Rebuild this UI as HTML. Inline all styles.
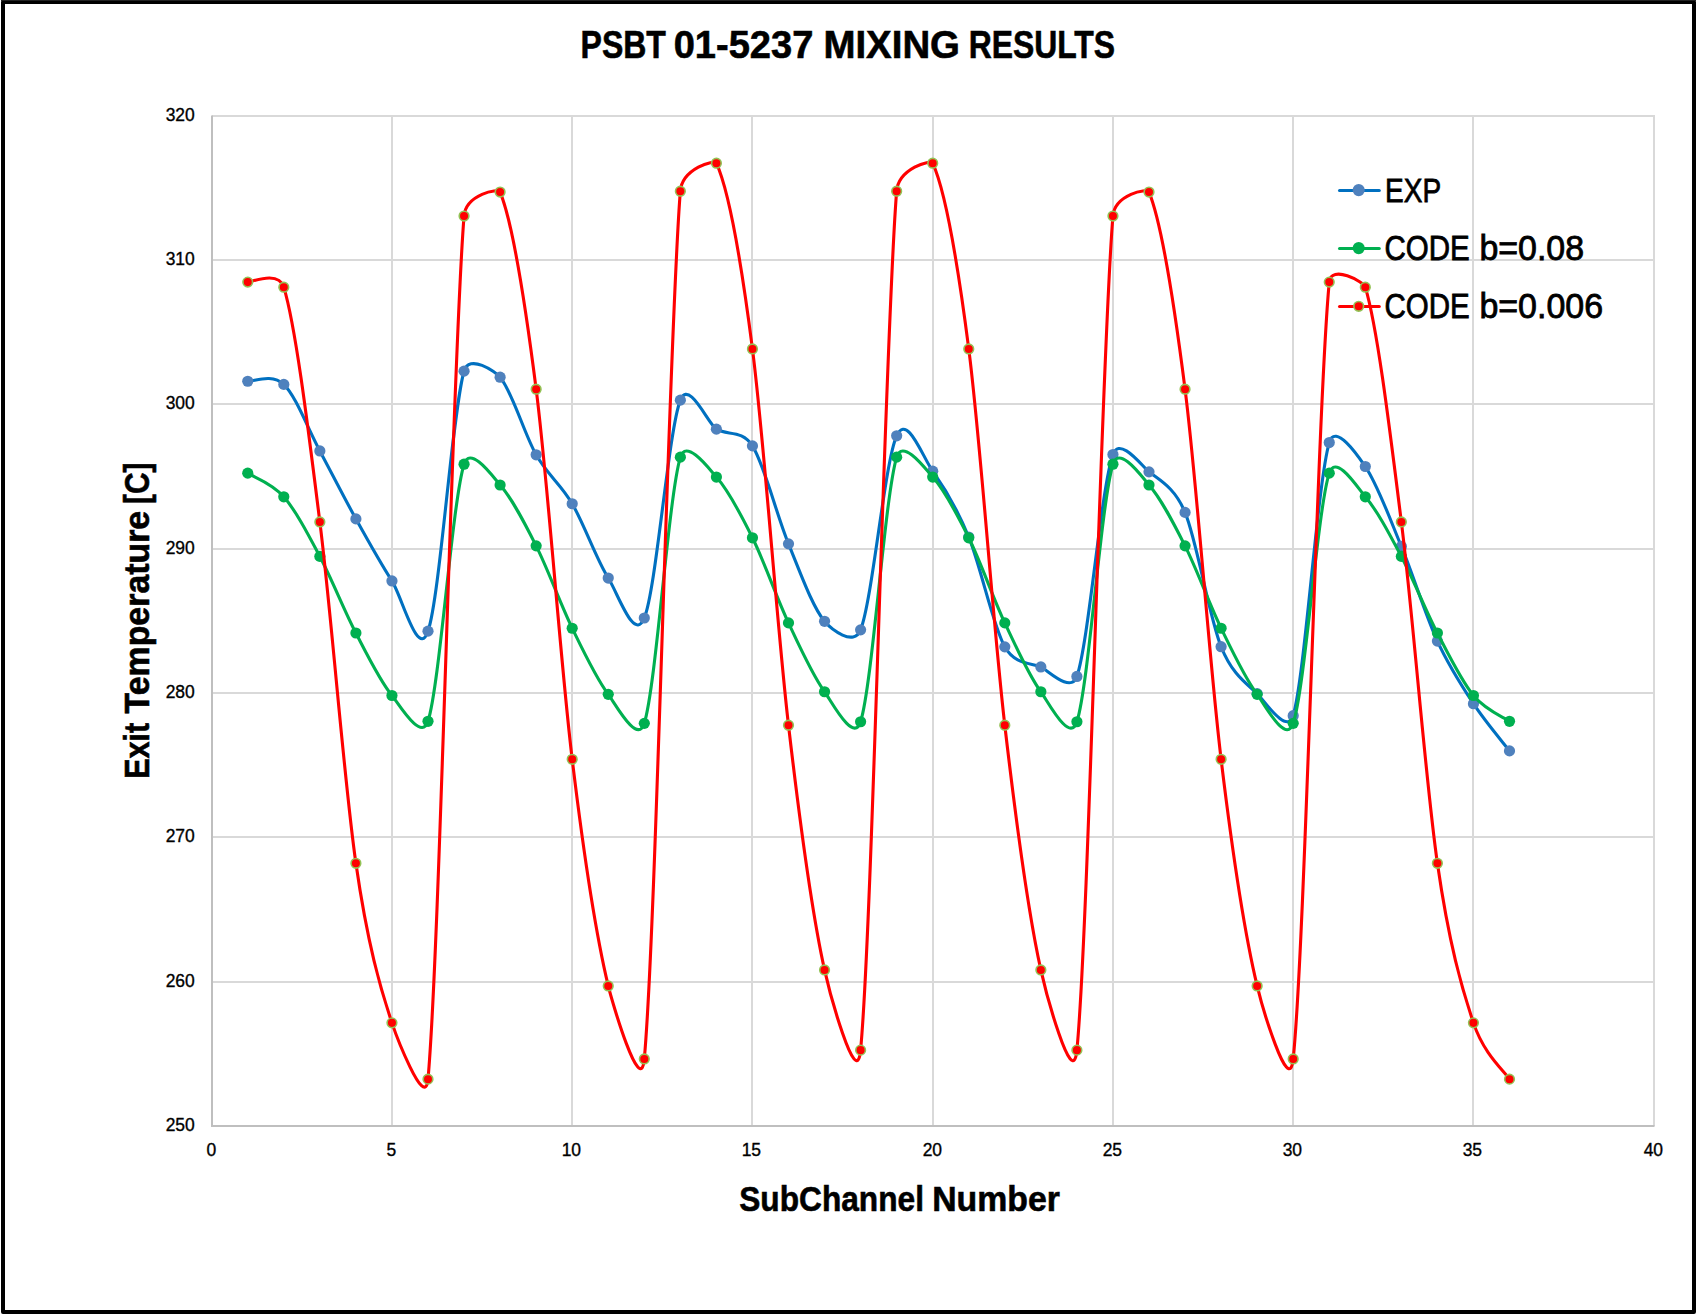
<!DOCTYPE html>
<html lang="en"><head><meta charset="utf-8"><title>PSBT 01-5237 MIXING RESULTS</title>
<style>html,body{margin:0;padding:0;background:#fff}svg{display:block}text{font-family:"Liberation Sans",sans-serif;fill:#000}.b{font-weight:bold}</style></head><body>
<svg width="1697" height="1314" viewBox="0 0 1697 1314">
<rect x="0" y="0" width="1697" height="1314" fill="#fff"/>
<rect x="3" y="2" width="1691" height="1310" fill="none" stroke="#000" stroke-width="4" stroke-linejoin="round"/>
<rect x="1" y="0" width="1695" height="1" fill="#222"/>
<g stroke="#d9d9d9" stroke-width="2"><line x1="212" y1="982" x2="1655" y2="982"/><line x1="212" y1="837" x2="1655" y2="837"/><line x1="212" y1="693" x2="1655" y2="693"/><line x1="212" y1="549" x2="1655" y2="549"/><line x1="212" y1="404" x2="1655" y2="404"/><line x1="212" y1="260" x2="1655" y2="260"/><line x1="212" y1="116" x2="1655" y2="116"/><line x1="392" y1="115" x2="392" y2="1126"/><line x1="572" y1="115" x2="572" y2="1126"/><line x1="752" y1="115" x2="752" y2="1126"/><line x1="933" y1="115" x2="933" y2="1126"/><line x1="1113" y1="115" x2="1113" y2="1126"/><line x1="1293" y1="115" x2="1293" y2="1126"/><line x1="1473" y1="115" x2="1473" y2="1126"/><line x1="1654" y1="115" x2="1654" y2="1126"/></g>
<g stroke="#bfbfbf" stroke-width="2"><line x1="212.00" y1="115.50" x2="212.00" y2="1127.00"/><line x1="211.00" y1="1126.00" x2="1654.50" y2="1126.00"/></g>
<path d="M247.75 381.24 C253.76 381.76 271.78 372.79 283.80 384.41 C295.82 396.03 307.83 428.51 319.85 450.93 C331.87 473.34 343.88 497.22 355.90 518.88 C367.92 540.55 379.93 562.22 391.95 580.93 C402.00 596.57 417.95 660.37 428.00 631.14 C440.02 596.17 452.03 413.46 464.05 371.14 C469.04 353.55 495.11 371.40 500.10 377.20 C512.12 391.14 524.13 433.73 536.15 454.82 C548.17 475.91 560.18 483.20 572.20 503.73 C584.22 524.27 596.23 559.00 608.25 578.04 C618.36 594.06 634.19 642.95 644.30 618.01 C656.32 588.36 668.33 431.62 680.35 400.14 C688.60 378.52 708.15 423.90 716.40 429.14 C726.98 435.85 741.87 429.05 752.45 445.88 C764.47 464.99 776.48 514.60 788.50 543.85 C800.52 573.09 812.53 606.99 824.55 621.33 C831.26 629.33 853.89 647.10 860.60 629.84 C872.62 598.91 884.63 462.23 896.65 435.78 C907.09 412.79 922.26 456.46 932.70 471.13 C944.72 488.01 956.73 507.77 968.75 537.06 C980.77 566.35 992.78 625.22 1004.80 646.87 C1014.81 664.90 1030.84 662.81 1040.85 666.92 C1046.84 669.38 1070.91 694.10 1076.90 676.44 C1088.92 641.05 1100.93 488.63 1112.95 454.53 C1119.60 435.67 1142.35 466.51 1149.00 471.85 C1159.34 480.14 1174.71 487.31 1185.05 512.39 C1197.07 541.54 1209.08 616.52 1221.10 646.72 C1232.03 674.20 1246.22 683.16 1257.15 693.61 C1262.98 699.20 1287.37 736.00 1293.20 715.69 C1305.22 673.85 1317.23 484.09 1329.25 442.56 C1335.26 421.77 1359.29 457.84 1365.30 466.51 C1377.32 483.82 1389.33 517.35 1401.35 546.44 C1413.37 575.54 1425.38 614.88 1437.40 641.09 C1449.42 667.31 1461.43 685.41 1473.45 703.71 C1485.47 722.01 1503.49 743.03 1509.50 750.90" fill="none" stroke="#0070c0" stroke-width="3.1" stroke-linecap="round" stroke-linejoin="round"/>
<circle cx="247.75" cy="381.24" r="5.60" fill="#4f81bd"/><circle cx="283.80" cy="384.41" r="5.60" fill="#4f81bd"/><circle cx="319.85" cy="450.93" r="5.60" fill="#4f81bd"/><circle cx="355.90" cy="518.88" r="5.60" fill="#4f81bd"/><circle cx="391.95" cy="580.93" r="5.60" fill="#4f81bd"/><circle cx="428.00" cy="631.14" r="5.60" fill="#4f81bd"/><circle cx="464.05" cy="371.14" r="5.60" fill="#4f81bd"/><circle cx="500.10" cy="377.20" r="5.60" fill="#4f81bd"/><circle cx="536.15" cy="454.82" r="5.60" fill="#4f81bd"/><circle cx="572.20" cy="503.73" r="5.60" fill="#4f81bd"/><circle cx="608.25" cy="578.04" r="5.60" fill="#4f81bd"/><circle cx="644.30" cy="618.01" r="5.60" fill="#4f81bd"/><circle cx="680.35" cy="400.14" r="5.60" fill="#4f81bd"/><circle cx="716.40" cy="429.14" r="5.60" fill="#4f81bd"/><circle cx="752.45" cy="445.88" r="5.60" fill="#4f81bd"/><circle cx="788.50" cy="543.85" r="5.60" fill="#4f81bd"/><circle cx="824.55" cy="621.33" r="5.60" fill="#4f81bd"/><circle cx="860.60" cy="629.84" r="5.60" fill="#4f81bd"/><circle cx="896.65" cy="435.78" r="5.60" fill="#4f81bd"/><circle cx="932.70" cy="471.13" r="5.60" fill="#4f81bd"/><circle cx="968.75" cy="537.06" r="5.60" fill="#4f81bd"/><circle cx="1004.80" cy="646.87" r="5.60" fill="#4f81bd"/><circle cx="1040.85" cy="666.92" r="5.60" fill="#4f81bd"/><circle cx="1076.90" cy="676.44" r="5.60" fill="#4f81bd"/><circle cx="1112.95" cy="454.53" r="5.60" fill="#4f81bd"/><circle cx="1149.00" cy="471.85" r="5.60" fill="#4f81bd"/><circle cx="1185.05" cy="512.39" r="5.60" fill="#4f81bd"/><circle cx="1221.10" cy="646.72" r="5.60" fill="#4f81bd"/><circle cx="1257.15" cy="693.61" r="5.60" fill="#4f81bd"/><circle cx="1293.20" cy="715.69" r="5.60" fill="#4f81bd"/><circle cx="1329.25" cy="442.56" r="5.60" fill="#4f81bd"/><circle cx="1365.30" cy="466.51" r="5.60" fill="#4f81bd"/><circle cx="1401.35" cy="546.44" r="5.60" fill="#4f81bd"/><circle cx="1437.40" cy="641.09" r="5.60" fill="#4f81bd"/><circle cx="1473.45" cy="703.71" r="5.60" fill="#4f81bd"/><circle cx="1509.50" cy="750.90" r="5.60" fill="#4f81bd"/>
<path d="M247.75 473.15 C253.76 477.09 271.78 482.93 283.80 496.81 C295.82 510.68 307.83 533.70 319.85 556.40 C331.87 579.10 343.88 609.83 355.90 633.01 C367.92 656.20 379.93 680.77 391.95 695.49 C398.55 703.57 421.40 742.49 428.00 721.32 C440.02 682.77 452.03 503.59 464.05 464.20 C470.12 444.30 494.03 478.10 500.10 484.98 C512.12 498.59 524.13 521.99 536.15 545.87 C548.17 569.75 560.18 603.51 572.20 628.25 C584.22 653.00 596.23 678.49 608.25 694.34 C614.98 703.21 637.57 745.47 644.30 723.34 C656.32 683.80 668.33 498.18 680.35 457.13 C686.14 437.37 710.61 470.57 716.40 477.04 C728.42 490.48 740.43 513.47 752.45 537.79 C764.47 562.10 776.48 597.26 788.50 622.91 C800.52 648.57 812.53 675.27 824.55 691.74 C831.44 701.18 853.71 744.17 860.60 721.75 C872.62 682.65 884.63 497.91 896.65 457.13 C902.47 437.38 926.88 470.53 932.70 477.04 C944.72 490.48 956.73 513.47 968.75 537.79 C980.77 562.10 992.78 597.26 1004.80 622.91 C1016.82 648.57 1028.83 675.27 1040.85 691.74 C1047.93 701.45 1069.82 744.11 1076.90 721.75 C1088.92 683.83 1100.93 503.66 1112.95 464.20 C1119.01 444.30 1142.94 478.11 1149.00 484.98 C1161.02 498.59 1173.03 521.99 1185.05 545.87 C1197.07 569.75 1209.08 603.51 1221.10 628.25 C1233.12 653.00 1245.13 678.49 1257.15 694.34 C1264.32 703.79 1286.03 745.33 1293.20 723.34 C1305.22 686.47 1317.23 510.90 1329.25 473.15 C1335.79 452.60 1358.76 489.26 1365.30 496.81 C1377.32 510.68 1389.33 533.70 1401.35 556.40 C1413.37 579.10 1425.38 609.83 1437.40 633.01 C1449.42 656.20 1461.43 680.77 1473.45 695.49 C1485.47 710.21 1503.49 717.01 1509.50 721.32" fill="none" stroke="#00b050" stroke-width="3.1" stroke-linecap="round" stroke-linejoin="round"/>
<circle cx="247.75" cy="473.15" r="5.60" fill="#00b050"/><circle cx="283.80" cy="496.81" r="5.60" fill="#00b050"/><circle cx="319.85" cy="556.40" r="5.60" fill="#00b050"/><circle cx="355.90" cy="633.01" r="5.60" fill="#00b050"/><circle cx="391.95" cy="695.49" r="5.60" fill="#00b050"/><circle cx="428.00" cy="721.32" r="5.60" fill="#00b050"/><circle cx="464.05" cy="464.20" r="5.60" fill="#00b050"/><circle cx="500.10" cy="484.98" r="5.60" fill="#00b050"/><circle cx="536.15" cy="545.87" r="5.60" fill="#00b050"/><circle cx="572.20" cy="628.25" r="5.60" fill="#00b050"/><circle cx="608.25" cy="694.34" r="5.60" fill="#00b050"/><circle cx="644.30" cy="723.34" r="5.60" fill="#00b050"/><circle cx="680.35" cy="457.13" r="5.60" fill="#00b050"/><circle cx="716.40" cy="477.04" r="5.60" fill="#00b050"/><circle cx="752.45" cy="537.79" r="5.60" fill="#00b050"/><circle cx="788.50" cy="622.91" r="5.60" fill="#00b050"/><circle cx="824.55" cy="691.74" r="5.60" fill="#00b050"/><circle cx="860.60" cy="721.75" r="5.60" fill="#00b050"/><circle cx="896.65" cy="457.13" r="5.60" fill="#00b050"/><circle cx="932.70" cy="477.04" r="5.60" fill="#00b050"/><circle cx="968.75" cy="537.79" r="5.60" fill="#00b050"/><circle cx="1004.80" cy="622.91" r="5.60" fill="#00b050"/><circle cx="1040.85" cy="691.74" r="5.60" fill="#00b050"/><circle cx="1076.90" cy="721.75" r="5.60" fill="#00b050"/><circle cx="1112.95" cy="464.20" r="5.60" fill="#00b050"/><circle cx="1149.00" cy="484.98" r="5.60" fill="#00b050"/><circle cx="1185.05" cy="545.87" r="5.60" fill="#00b050"/><circle cx="1221.10" cy="628.25" r="5.60" fill="#00b050"/><circle cx="1257.15" cy="694.34" r="5.60" fill="#00b050"/><circle cx="1293.20" cy="723.34" r="5.60" fill="#00b050"/><circle cx="1329.25" cy="473.15" r="5.60" fill="#00b050"/><circle cx="1365.30" cy="496.81" r="5.60" fill="#00b050"/><circle cx="1401.35" cy="556.40" r="5.60" fill="#00b050"/><circle cx="1437.40" cy="633.01" r="5.60" fill="#00b050"/><circle cx="1473.45" cy="695.49" r="5.60" fill="#00b050"/><circle cx="1509.50" cy="721.32" r="5.60" fill="#00b050"/>
<path d="M247.75 282.11 C250.37 282.48 278.56 269.73 283.80 287.16 C295.82 327.13 307.83 425.89 319.85 521.91 C331.87 617.94 343.88 779.80 355.90 863.29 C367.55 944.26 380.30 987.99 391.95 1022.87 C394.92 1031.78 425.03 1112.43 428.00 1079.15 C440.02 944.67 452.03 363.87 464.05 216.03 C465.80 194.46 498.35 187.87 500.10 192.08 C512.12 220.93 524.13 294.64 536.15 389.17 C548.17 483.70 560.18 659.80 572.20 759.26 C584.22 858.73 596.23 935.99 608.25 985.94 C611.93 1001.23 640.62 1099.49 644.30 1058.95 C656.32 926.49 668.33 340.50 680.35 191.21 C682.18 168.46 714.57 159.22 716.40 163.22 C728.42 189.50 740.43 255.25 752.45 348.92 C764.47 442.58 776.48 621.71 788.50 725.21 C800.52 828.71 812.53 915.77 824.55 969.92 C828.60 988.19 856.55 1093.93 860.60 1050.14 C872.62 920.36 884.63 339.03 896.65 191.21 C898.50 168.47 930.85 159.18 932.70 163.22 C944.72 189.50 956.73 255.25 968.75 348.92 C980.77 442.58 992.78 621.71 1004.80 725.21 C1016.82 828.71 1028.83 915.77 1040.85 969.92 C1045.04 988.79 1072.71 1093.92 1076.90 1050.14 C1088.92 924.50 1100.93 359.04 1112.95 216.03 C1114.76 194.46 1147.19 187.73 1149.00 192.08 C1161.02 220.93 1173.03 294.64 1185.05 389.17 C1197.07 483.70 1209.08 659.80 1221.10 759.26 C1233.12 858.73 1245.13 935.99 1257.15 985.94 C1261.30 1003.18 1289.05 1099.45 1293.20 1058.95 C1305.22 941.64 1317.23 410.74 1329.25 282.11 C1330.94 263.99 1363.61 281.53 1365.30 287.16 C1377.32 327.13 1389.33 425.89 1401.35 521.91 C1413.37 617.94 1425.38 779.80 1437.40 863.29 C1449.05 944.26 1461.80 987.99 1473.45 1022.87 C1484.04 1054.57 1504.21 1070.88 1509.50 1079.15" fill="none" stroke="#ff0000" stroke-width="3.1" stroke-linecap="round" stroke-linejoin="round"/>
<circle cx="247.75" cy="282.11" r="4.82" fill="#ff0000" stroke="#93c255" stroke-width="1.6"/><circle cx="283.80" cy="287.16" r="4.82" fill="#ff0000" stroke="#93c255" stroke-width="1.6"/><circle cx="319.85" cy="521.91" r="4.82" fill="#ff0000" stroke="#93c255" stroke-width="1.6"/><circle cx="355.90" cy="863.29" r="4.82" fill="#ff0000" stroke="#93c255" stroke-width="1.6"/><circle cx="391.95" cy="1022.87" r="4.82" fill="#ff0000" stroke="#93c255" stroke-width="1.6"/><circle cx="428.00" cy="1079.15" r="4.82" fill="#ff0000" stroke="#93c255" stroke-width="1.6"/><circle cx="464.05" cy="216.03" r="4.82" fill="#ff0000" stroke="#93c255" stroke-width="1.6"/><circle cx="500.10" cy="192.08" r="4.82" fill="#ff0000" stroke="#93c255" stroke-width="1.6"/><circle cx="536.15" cy="389.17" r="4.82" fill="#ff0000" stroke="#93c255" stroke-width="1.6"/><circle cx="572.20" cy="759.26" r="4.82" fill="#ff0000" stroke="#93c255" stroke-width="1.6"/><circle cx="608.25" cy="985.94" r="4.82" fill="#ff0000" stroke="#93c255" stroke-width="1.6"/><circle cx="644.30" cy="1058.95" r="4.82" fill="#ff0000" stroke="#93c255" stroke-width="1.6"/><circle cx="680.35" cy="191.21" r="4.82" fill="#ff0000" stroke="#93c255" stroke-width="1.6"/><circle cx="716.40" cy="163.22" r="4.82" fill="#ff0000" stroke="#93c255" stroke-width="1.6"/><circle cx="752.45" cy="348.92" r="4.82" fill="#ff0000" stroke="#93c255" stroke-width="1.6"/><circle cx="788.50" cy="725.21" r="4.82" fill="#ff0000" stroke="#93c255" stroke-width="1.6"/><circle cx="824.55" cy="969.92" r="4.82" fill="#ff0000" stroke="#93c255" stroke-width="1.6"/><circle cx="860.60" cy="1050.14" r="4.82" fill="#ff0000" stroke="#93c255" stroke-width="1.6"/><circle cx="896.65" cy="191.21" r="4.82" fill="#ff0000" stroke="#93c255" stroke-width="1.6"/><circle cx="932.70" cy="163.22" r="4.82" fill="#ff0000" stroke="#93c255" stroke-width="1.6"/><circle cx="968.75" cy="348.92" r="4.82" fill="#ff0000" stroke="#93c255" stroke-width="1.6"/><circle cx="1004.80" cy="725.21" r="4.82" fill="#ff0000" stroke="#93c255" stroke-width="1.6"/><circle cx="1040.85" cy="969.92" r="4.82" fill="#ff0000" stroke="#93c255" stroke-width="1.6"/><circle cx="1076.90" cy="1050.14" r="4.82" fill="#ff0000" stroke="#93c255" stroke-width="1.6"/><circle cx="1112.95" cy="216.03" r="4.82" fill="#ff0000" stroke="#93c255" stroke-width="1.6"/><circle cx="1149.00" cy="192.08" r="4.82" fill="#ff0000" stroke="#93c255" stroke-width="1.6"/><circle cx="1185.05" cy="389.17" r="4.82" fill="#ff0000" stroke="#93c255" stroke-width="1.6"/><circle cx="1221.10" cy="759.26" r="4.82" fill="#ff0000" stroke="#93c255" stroke-width="1.6"/><circle cx="1257.15" cy="985.94" r="4.82" fill="#ff0000" stroke="#93c255" stroke-width="1.6"/><circle cx="1293.20" cy="1058.95" r="4.82" fill="#ff0000" stroke="#93c255" stroke-width="1.6"/><circle cx="1329.25" cy="282.11" r="4.82" fill="#ff0000" stroke="#93c255" stroke-width="1.6"/><circle cx="1365.30" cy="287.16" r="4.82" fill="#ff0000" stroke="#93c255" stroke-width="1.6"/><circle cx="1401.35" cy="521.91" r="4.82" fill="#ff0000" stroke="#93c255" stroke-width="1.6"/><circle cx="1437.40" cy="863.29" r="4.82" fill="#ff0000" stroke="#93c255" stroke-width="1.6"/><circle cx="1473.45" cy="1022.87" r="4.82" fill="#ff0000" stroke="#93c255" stroke-width="1.6"/><circle cx="1509.50" cy="1079.15" r="4.82" fill="#ff0000" stroke="#93c255" stroke-width="1.6"/>
<g font-size="18" stroke="#000" stroke-width="0.35"><text x="165.67" y="1131.00" textLength="29.13" lengthAdjust="spacingAndGlyphs">250</text><text x="165.67" y="987.00" textLength="29.13" lengthAdjust="spacingAndGlyphs">260</text><text x="165.67" y="842.00" textLength="29.13" lengthAdjust="spacingAndGlyphs">270</text><text x="165.67" y="698.00" textLength="29.13" lengthAdjust="spacingAndGlyphs">280</text><text x="165.67" y="554.00" textLength="29.13" lengthAdjust="spacingAndGlyphs">290</text><text x="165.67" y="409.00" textLength="29.13" lengthAdjust="spacingAndGlyphs">300</text><text x="165.67" y="265.00" textLength="29.13" lengthAdjust="spacingAndGlyphs">310</text><text x="165.67" y="121.00" textLength="29.13" lengthAdjust="spacingAndGlyphs">320</text><text x="206.50" y="1155.9" textLength="9.71" lengthAdjust="spacingAndGlyphs">0</text><text x="386.50" y="1155.9" textLength="9.71" lengthAdjust="spacingAndGlyphs">5</text><text x="561.64" y="1155.9" textLength="19.42" lengthAdjust="spacingAndGlyphs">10</text><text x="741.64" y="1155.9" textLength="19.42" lengthAdjust="spacingAndGlyphs">15</text><text x="922.64" y="1155.9" textLength="19.42" lengthAdjust="spacingAndGlyphs">20</text><text x="1102.64" y="1155.9" textLength="19.42" lengthAdjust="spacingAndGlyphs">25</text><text x="1282.64" y="1155.9" textLength="19.42" lengthAdjust="spacingAndGlyphs">30</text><text x="1462.64" y="1155.9" textLength="19.42" lengthAdjust="spacingAndGlyphs">35</text><text x="1643.64" y="1155.9" textLength="19.42" lengthAdjust="spacingAndGlyphs">40</text></g>
<text class="b" y="57.80" font-size="38.43" stroke="#000" stroke-width="0.6"><tspan x="580.52" textLength="85.42" lengthAdjust="spacingAndGlyphs">PSBT</tspan> <tspan x="673.70" textLength="139.62" lengthAdjust="spacingAndGlyphs">01-5237</tspan> <tspan x="823.40" textLength="136.63" lengthAdjust="spacingAndGlyphs">MIXING</tspan> <tspan x="968.63" textLength="146.44" lengthAdjust="spacingAndGlyphs">RESULTS</tspan></text>
<text class="b" y="1211.00" font-size="35.10" stroke="#000" stroke-width="0.6"><tspan x="739.24" textLength="184.73" lengthAdjust="spacingAndGlyphs">SubChannel</tspan> <tspan x="932.24" textLength="127.61" lengthAdjust="spacingAndGlyphs">Number</tspan></text>
<g transform="translate(149.2 777.1) rotate(-90)"><text class="b" y="0.00" font-size="35.39" stroke="#000" stroke-width="0.6"><tspan x="-1.78" textLength="56.10" lengthAdjust="spacingAndGlyphs">Exit</tspan> <tspan x="63.70" textLength="202.59" lengthAdjust="spacingAndGlyphs">Temperature</tspan> <tspan x="273.10" textLength="41.42" lengthAdjust="spacingAndGlyphs">[C]</tspan></text></g>
<line x1="1339.5" y1="190.5" x2="1379.3" y2="190.5" stroke="#0070c0" stroke-width="3" stroke-linecap="round"/><circle cx="1358.7" cy="190.1" r="6.05" fill="#4f81bd"/><text y="201.70" font-size="34.01" stroke="#000" stroke-width="0.8"><tspan x="1385.03" textLength="56.05" lengthAdjust="spacingAndGlyphs">EXP</tspan></text>
<line x1="1339.5" y1="248.5" x2="1379.3" y2="248.5" stroke="#00b050" stroke-width="3" stroke-linecap="round"/><circle cx="1358.7" cy="248.1" r="6.05" fill="#00b050"/><text y="259.80" font-size="34.30" stroke="#000" stroke-width="0.8"><tspan x="1384.50" textLength="85.26" lengthAdjust="spacingAndGlyphs">CODE</tspan> <tspan x="1479.40" textLength="104.73" lengthAdjust="spacingAndGlyphs">b=0.08</tspan></text>
<line x1="1339.5" y1="306.5" x2="1379.3" y2="306.5" stroke="#ff0000" stroke-width="3" stroke-linecap="round"/><circle cx="1358.7" cy="306.3" r="4.85" fill="#ff0000" stroke="#93c255" stroke-width="1.6"/><text y="317.70" font-size="34.30" stroke="#000" stroke-width="0.8"><tspan x="1384.50" textLength="85.26" lengthAdjust="spacingAndGlyphs">CODE</tspan> <tspan x="1479.40" textLength="123.75" lengthAdjust="spacingAndGlyphs">b=0.006</tspan></text>
</svg>
</body></html>
